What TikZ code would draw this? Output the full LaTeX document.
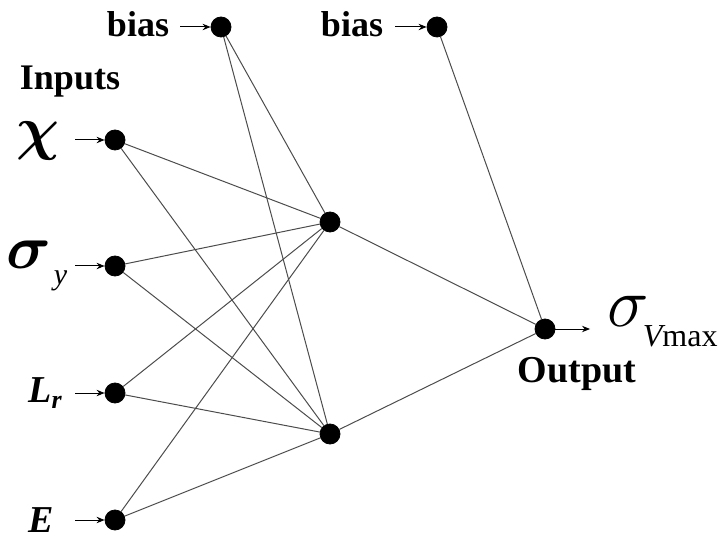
\RequirePackage{fix-cm}
\documentclass[tikz,border=0pt]{standalone}
\usepackage{bm}
\usepackage{fontspec}
\setmainfont{Liberation Serif}
\usetikzlibrary{arrows.meta}

\begin{document}
\begin{tikzpicture}[x=0.5pt,y=-0.5pt,
            inner sep=0pt,
            neuron/.style={draw,circle,fill=black,minimum size=10pt},
            wire/.style={black!70,line width=0.5pt},
            feed/.style={-{Stealth[length=4pt,width=3.2pt]},line width=0.5pt},
            word/.style={font=\fontsize{18}{20}\selectfont\bfseries},
            ]
            \useasboundingbox (0,0) rectangle (721,539);

            % neurons
            \node[neuron] (b1) at (221,27) {};
            \node[neuron] (b2) at (437,27) {};
            \node[neuron] (x) at (115,140) {};
            \node[neuron] (s) at (115,266) {};
            \node[neuron] (l) at (115,393) {};
            \node[neuron] (e) at (115,520) {};
            \node[neuron] (h1) at (330,222) {};
            \node[neuron] (h2) at (330,434) {};
            \node[neuron] (o) at (545,329) {};

            % labels
            \node[word] (bt1) at (138,24) {bias};
            \node[word] (bt2) at (352,24) {bias};
            \node[word] (inp) at (70,82) {Inputs};
            \node[word,font=\fontsize{19}{20}\selectfont\bfseries] (out) at (577,374) {Output};
            \node[font=\fontsize{30}{32}\selectfont] (xt) at (38,141) {$\bm{\chi}$};
            \node[font=\fontsize{31}{32}\selectfont] (st) at (37,266) {$\bm{\sigma}$\raisebox{-8pt}{\fontsize{15}{16}\selectfont\itshape\kern1pt y}};
            \node[font=\fontsize{19}{20}\selectfont\bfseries\itshape] (lt) at (45,393) {L\raisebox{-3pt}{\fontsize{13}{14}\selectfont r}};
            \node[font=\fontsize{19}{20}\selectfont\bfseries\itshape] (et) at (41,520) {E};
            \node[anchor=west,font=\fontsize{35}{36}\selectfont] (ot) at (607,322) {$\sigma$\kern-3pt\raisebox{-10pt}{\fontsize{16}{17}\selectfont\itshape V\upshape max}};

            % free ends of the feed arrows
            \coordinate (xa) at (75,140);
            \coordinate (sa) at (75,266);
            \coordinate (la) at (75,393);
            \coordinate (ea) at (75,520);
            \coordinate (b1a) at (180,27);
            \coordinate (b2a) at (395,27);
            \coordinate (oa) at (590,329);

            \draw[feed] (xa) -- (x);
            \draw[feed] (sa) -- (s);
            \draw[feed] (la) -- (l);
            \draw[feed] (ea) -- (e);
            \draw[feed] (b1a) -- (b1);
            \draw[feed] (b2a) -- (b2);
            \draw[feed] (o) -- (oa);

            % connections
            \foreach \i in {x,s,l,e,b1}
                \foreach \j in {h1,h2}
                    \draw[wire] (\i) -- (\j);
            \foreach \i in {h1,h2,b2}
                \draw[wire] (\i) -- (o);
        \end{tikzpicture}
\end{document}
